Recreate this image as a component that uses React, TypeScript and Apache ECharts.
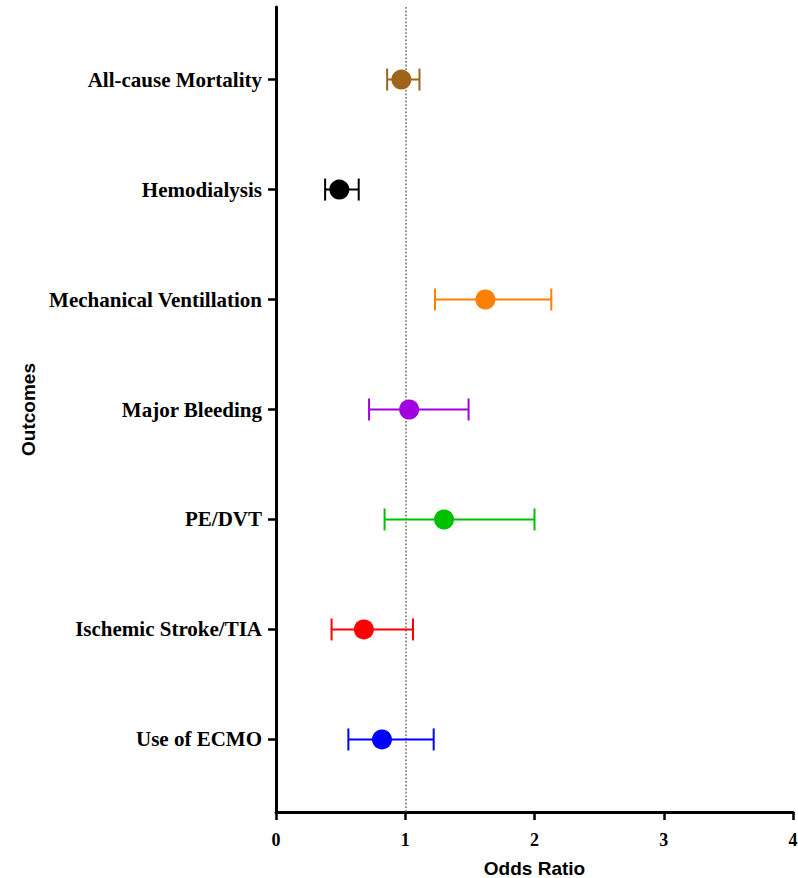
import React, { useEffect, useRef } from "react";
import * as echarts from "echarts";

const categories = [
  "All-cause Mortality",
  "Hemodialysis",
  "Mechanical Ventillation",
  "Major Bleeding",
  "PE/DVT",
  "Ischemic Stroke/TIA",
  "Use of ECMO",
];
const oddsRatio = [0.97, 0.49, 1.62, 1.03, 1.3, 0.68, 0.82];
const ciLow = [0.86, 0.38, 1.23, 0.72, 0.84, 0.43, 0.56];
const ciHigh = [1.11, 0.64, 2.13, 1.49, 2.0, 1.06, 1.22];
const colors = ["#9E6419", "#000000", "#FF8000", "#A300E0", "#00C000", "#FF0000", "#0000FF"];
const xTicks = [0, 1, 2, 3, 4];

export default function App() {
  const ref = useRef<HTMLDivElement>(null);
  useEffect(() => {
    if (!ref.current) return;
    const chart = echarts.init(ref.current, null, { renderer: "svg" });
    const data = categories.map((_, i) => [ciLow[i], ciHigh[i], oddsRatio[i], i]);
    const serif = "'Liberation Serif', 'Times New Roman', serif";
    const sans = "'Liberation Sans', Arial, sans-serif";
    chart.setOption({
      animation: false,
      backgroundColor: "#ffffff",
      grid: { left: 276, right: 5, top: 7, bottom: 66, containLabel: false, outerBoundsMode: "none" },
      xAxis: {
        type: "value",
        min: xTicks[0],
        max: xTicks[xTicks.length - 1],
        interval: 1,
        name: "Odds Ratio",
        nameLocation: "middle",
        nameGap: 47,
        nameTextStyle: { fontFamily: sans, fontWeight: "bold", fontSize: 19, color: "#000" },
        axisLine: { onZero: false, lineStyle: { color: "#000", width: 3 } },
        axisTick: { length: 8, lineStyle: { color: "#000", width: 2.5 } },
        axisLabel: { fontFamily: serif, fontWeight: "bold", fontSize: 18, color: "#000", margin: 19 },
        splitLine: { show: false },
      },
      yAxis: {
        type: "value",
        inverse: true,
        min: -0.66,
        max: 6.66,
        name: "Outcomes",
        nameLocation: "middle",
        nameRotate: 90,
        nameGap: 234,
        nameTextStyle: { fontFamily: sans, fontWeight: "bold", fontSize: 19, color: "#000" },
        axisLine: { onZero: false, lineStyle: { color: "#000", width: 3 } },
        axisTick: {
          length: 8,
          customValues: categories.map((_, i) => i),
          lineStyle: { color: "#000", width: 2.5 },
        },
        axisLabel: {
          customValues: categories.map((_, i) => i),
          formatter: (v: number) => categories[Math.round(v)] ?? "",
          fontFamily: serif,
          fontWeight: "bold",
          fontSize: 21,
          color: "#000",
          margin: 14,
        },
        splitLine: { show: false },
      },
      series: [
        {
          type: "custom",
          data,
          encode: { x: [0, 1, 2], y: 3 },
          renderItem: (params: any, api: any) => {
            const i = api.value(3);
            const lo = api.coord([api.value(0), i]);
            const hi = api.coord([api.value(1), i]);
            const mid = api.coord([api.value(2), i]);
            const c = colors[params.dataIndex];
            const cap = 11;
            const ls = { stroke: c, lineWidth: 2 };
            return {
              type: "group",
              children: [
                { type: "line", shape: { x1: lo[0], y1: lo[1], x2: hi[0], y2: hi[1] }, style: ls },
                { type: "line", shape: { x1: lo[0], y1: lo[1] - cap, x2: lo[0], y2: lo[1] + cap }, style: ls },
                { type: "line", shape: { x1: hi[0], y1: hi[1] - cap, x2: hi[0], y2: hi[1] + cap }, style: ls },
                { type: "circle", shape: { cx: mid[0], cy: mid[1], r: 10 }, style: { fill: c } },
              ],
            };
          },
          markLine: {
            silent: true,
            symbol: "none",
            label: { show: false },
            lineStyle: { color: "#888", width: 1.8, type: "dotted" },
            data: [{ xAxis: 1 }],
            z: 1,
          },
          z: 3,
        },
      ],
    });
    return () => chart.dispose();
  }, []);
  return <div ref={ref} style={{ position: "fixed", left: 0, top: 0, width: 798, height: 878 }} />;
}
